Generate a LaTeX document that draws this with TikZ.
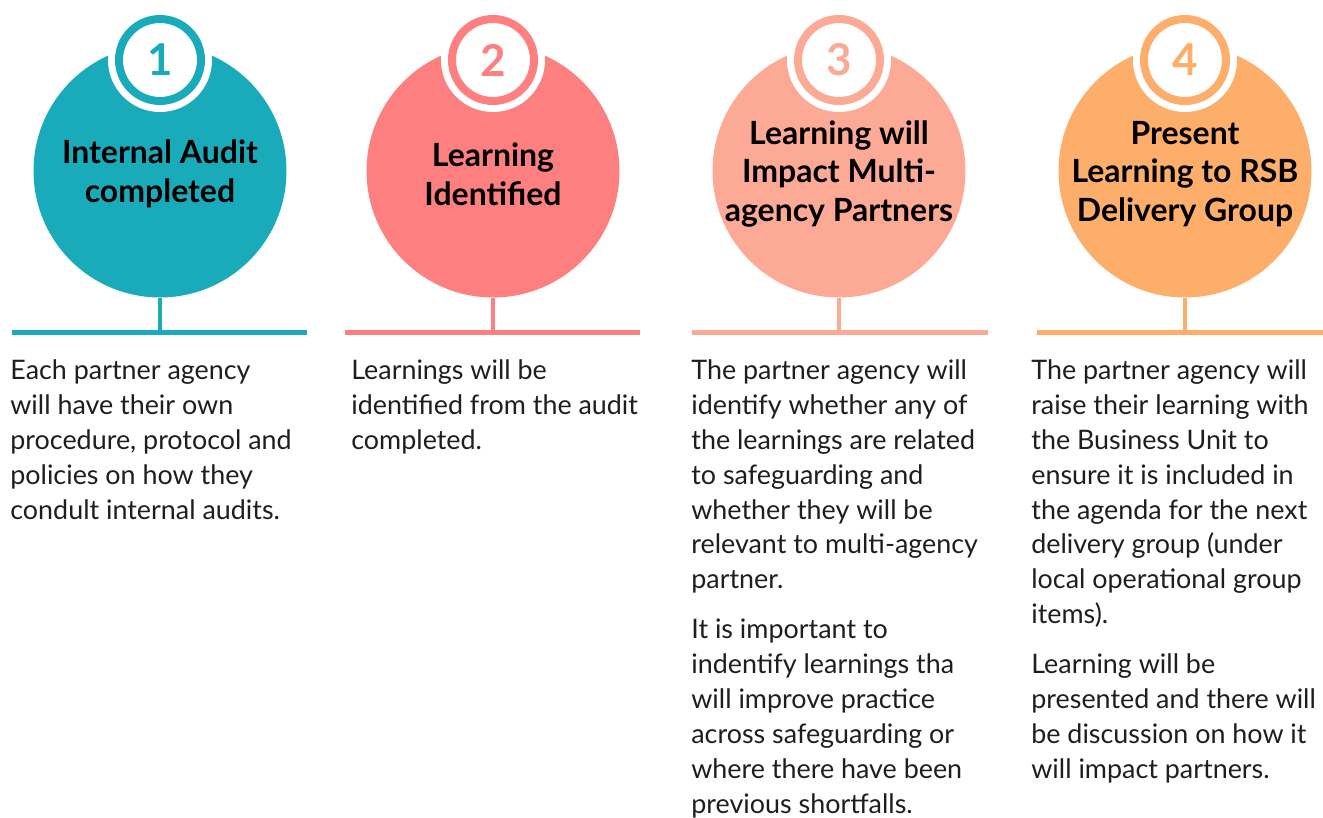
\documentclass[tikz,border=0pt]{standalone}
\usepackage{fontspec}
\setmainfont{Lato}
\usepackage{tikz}
\usetikzlibrary{positioning,calc}
\usepackage{xcolor}
\definecolor{stepA}{HTML}{1AABBB}
\definecolor{stepB}{HTML}{FD7F7F}
\definecolor{stepC}{HTML}{FCA996}
\definecolor{stepD}{HTML}{FDAE6A}
\definecolor{bodytxt}{HTML}{1E1E1E}

\begin{document}
\begin{tikzpicture}[
  x=0.02cm, y=-0.02cm,
  bigc/.style={circle, minimum size=5.06cm, inner sep=0pt},
  badge/.style={circle, fill=white, line width=0.16cm, minimum size=1.64cm,
                inner sep=0pt, font=\fontsize{25}{25}\selectfont\bfseries,
                preaction={draw=white, line width=0.44cm}},
  title/.style={align=center, font=\fontsize{18.2}{22}\selectfont\bfseries},
  stem/.style={line width=0.08cm},
  baseln/.style={line width=0.1cm},
  body/.style={anchor=north west, inner sep=0pt, align=left, text=bodytxt,
               font=\fontsize{15.3}{19.9}\selectfont},
]
  \useasboundingbox (0,0) rectangle (1323,818);
  % ── Column 1 ──
  \coordinate (l1a) at (12,332);
  \coordinate (l1b) at (307,332);
  \node[bigc, fill=stepA] (c1) at (160,171) {};
  \node[badge, draw=stepA, text=stepA] (b1) at (160,60) {1};
  \node[title] (t1) at ($(c1)+(0,3)$) {Internal Audit\\completed};
  \draw[stem, stepA] (c1.south) -- (c1.south |- l1a);
  \draw[baseln, stepA] (l1a) -- (l1b);
  \node[body] (d1) at (10,359)
    {Each partner agency\\will have their own\\procedure, protocol and\\policies on how they\\condult internal audits.};
  % ── Column 2 ──
  \coordinate (l2a) at (345,332);
  \coordinate (l2b) at (640,332);
  \node[bigc, fill=stepB] (c2) at (493,171) {};
  \node[badge, draw=stepB, text=stepB] (b2) at (493,60) {2};
  \node[title] (t2) at ($(c2)+(0,3)$) {Learning\\Identified};
  \draw[stem, stepB] (c2.south) -- (c2.south |- l2a);
  \draw[baseln, stepB] (l2a) -- (l2b);
  \node[body] (d2) at (351,359)
    {Learnings will be\\identified from the audit\\completed.};
  % ── Column 3 ──
  \coordinate (l3a) at (692,332);
  \coordinate (l3b) at (988,332);
  \node[bigc, fill=stepC] (c3) at (839,171) {};
  \node[badge, draw=stepC, text=stepC] (b3) at (839,60) {3};
  \node[title] (t3) at ($(c3)+(0,3)$) {Learning will\\Impact Multi-\\agency Partners};
  \draw[stem, stepC] (c3.south) -- (c3.south |- l3a);
  \draw[baseln, stepC] (l3a) -- (l3b);
  \node[body] (d3) at (691,359)
    {The partner agency will\\identify whether any of\\the learnings are related\\to safeguarding and\\whether they will be\\relevant to multi-agency\\partner.\\[8.5pt]
     It is important to\\indentify learnings tha\\will improve practice\\across safeguarding or\\where there have been\\previous shortfalls.};
  % ── Column 4 ──
  \coordinate (l4a) at (1037,332);
  \coordinate (l4b) at (1323,332);
  \node[bigc, fill=stepD] (c4) at (1185,171) {};
  \node[badge, draw=stepD, text=stepD] (b4) at (1185,60) {4};
  \node[title] (t4) at ($(c4)+(0,3)$) {Present\\Learning to RSB\\Delivery Group};
  \draw[stem, stepD] (c4.south) -- (c4.south |- l4a);
  \draw[baseln, stepD] (l4a) -- (l4b);
  \node[body] (d4) at (1031,359)
    {The partner agency will\\raise their learning with\\the Business Unit to\\ensure it is included in\\the agenda for the next\\delivery group (under\\local operational group\\items).\\[8.5pt]
     Learning will be\\presented and there will\\be discussion on how it\\will impact partners.};
\end{tikzpicture}
\end{document}
